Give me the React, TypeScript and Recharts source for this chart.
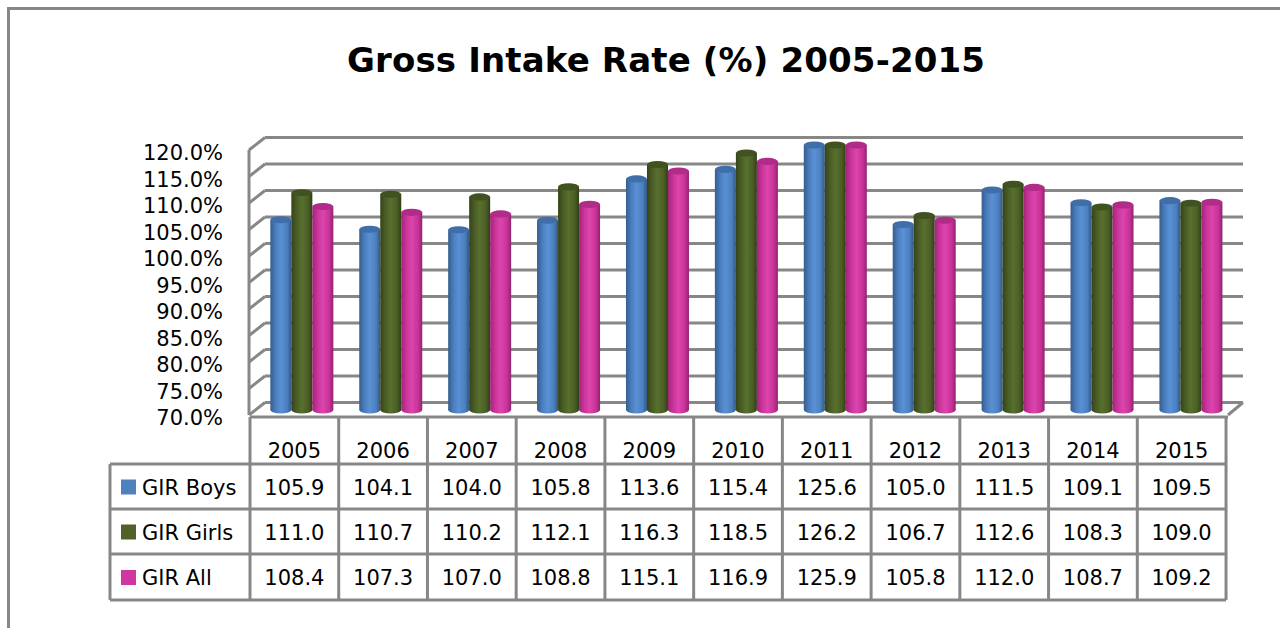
import React from 'react';
import { BarChart, Bar, XAxis, YAxis, CartesianGrid } from 'recharts';

const years = ['2005', '2006', '2007', '2008', '2009', '2010', '2011', '2012', '2013', '2014', '2015'];
const boys = [105.9, 104.1, 104.0, 105.8, 113.6, 115.4, 125.6, 105.0, 111.5, 109.1, 109.5];
const girls = [111.0, 110.7, 110.2, 112.1, 116.3, 118.5, 126.2, 106.7, 112.6, 108.3, 109.0];
const allKids = [108.4, 107.3, 107.0, 108.8, 115.1, 116.9, 125.9, 105.8, 112.0, 108.7, 109.2];
const yTicks = [70, 75, 80, 85, 90, 95, 100, 105, 110, 115, 120];
const seriesNames = ['GIR Boys', 'GIR Girls', 'GIR All'];
const seriesValues = [boys, girls, allKids];
const Y_MIN = 70;
const Y_MAX = 120;

const data = years.map((year, i) => ({ year, boys: boys[i], girls: girls[i], all: allKids[i] }));

const GRAY = '#878787';
const FONT = '"DejaVu Sans", sans-serif';

const palette = [
  { id: 'gBlue', legend: '#4F81BD', top: '#3F6EA8', stops: ['#365D8E', '#4A7DBD', '#5A91D4', '#4B80C0', '#335784'] },
  { id: 'gGreen', legend: '#4F6228', top: '#415221', stops: ['#35431A', '#4A5D25', '#58702E', '#4B5E26', '#313D17'] },
  { id: 'gPink', legend: '#D0369F', top: '#B02C88', stops: ['#9E2679', '#CB349A', '#DC45AD', '#C93398', '#922270'] },
];

const makeCylinder = (idx: number) => (props: any) => {
  const { x, y, width, height } = props;
  if (width == null || height == null || height <= 0) return <g />;
  const c = palette[idx];
  const rx = width / 2;
  const ry = Math.max(2, width * 0.17);
  const cx = x + rx;
  return (
    <g>
      <ellipse cx={cx} cy={y + height} rx={rx} ry={ry} fill={`url(#${c.id})`} />
      <rect x={x} y={y} width={width} height={height} fill={`url(#${c.id})`} />
      <ellipse cx={cx} cy={y} rx={rx} ry={ry} fill={c.top} />
    </g>
  );
};

const GridLine = (p: any) => {
  const { x1, x2, y1, index } = p;
  const back = y1 - 7.5;
  const front = y1 + 5;
  return (
    <g>
      <line x1={x1 + 8} x2={x2 + 8} y1={back} y2={back} stroke={GRAY} strokeWidth={3} />
      <line x1={x1 - 8} y1={front} x2={x1 + 8} y2={back} stroke={GRAY} strokeWidth={3} />
      {index === 0 ? (
        <line x1={x2 - 7} y1={front} x2={x2 + 8} y2={back} stroke={GRAY} strokeWidth={3} />
      ) : null}
    </g>
  );
};

const YTick = (p: any) => {
  const { x, y, payload } = p;
  return (
    <text x={x - 34} y={y + 8} textAnchor="end" dominantBaseline="central" fontFamily={FONT} fontSize={21} fill="#000">
      {`${Number(payload.value).toFixed(1)}%`}
    </text>
  );
};

const TABLE_LEFT = 110;
const COL0 = 250;
const COLW = 88.73;
const HEAD_TOP = 417;
const ROW_TOPS = [464, 509, 554];
const TABLE_BOTTOM = 600;

const Table = () => {
  const right = COL0 + COLW * years.length;
  const lines: any[] = [];
  lines.push(<line key="top" x1={COL0} x2={right + 2} y1={HEAD_TOP} y2={HEAD_TOP} />);
  ROW_TOPS.forEach((t, i) => lines.push(<line key={`h${i}`} x1={TABLE_LEFT} x2={right} y1={t} y2={t} />));
  lines.push(<line key="bottom" x1={TABLE_LEFT} x2={right} y1={TABLE_BOTTOM} y2={TABLE_BOTTOM} />);
  lines.push(<line key="vl" x1={TABLE_LEFT} x2={TABLE_LEFT} y1={ROW_TOPS[0]} y2={TABLE_BOTTOM} />);
  for (let i = 0; i <= years.length; i++) {
    const xx = COL0 + COLW * i;
    lines.push(<line key={`v${i}`} x1={xx} x2={xx} y1={HEAD_TOP} y2={TABLE_BOTTOM} />);
  }
  return (
    <g>
      <g stroke={GRAY} strokeWidth={3}>{lines}</g>
      <g fontFamily={FONT} fontSize={21} fill="#000">
        {years.map((yr, i) => (
          <text key={`y${i}`} x={COL0 + COLW * (i + 0.5)} y={451} textAnchor="middle" dominantBaseline="central">{yr}</text>
        ))}
        {seriesNames.map((name, r) => {
          const cy = (ROW_TOPS[r] + (ROW_TOPS[r + 1] ?? TABLE_BOTTOM)) / 2 + 1;
          return (
            <g key={name}>
              <rect x={121} y={cy - 8} width={15} height={15} fill={palette[r].legend} />
              <text x={142} y={cy} dominantBaseline="central">{name}</text>
              {seriesValues[r].map((v, i) => (
                <text key={i} x={COL0 + COLW * (i + 0.5)} y={cy} textAnchor="middle" dominantBaseline="central">{v.toFixed(1)}</text>
              ))}
            </g>
          );
        })}
      </g>
    </g>
  );
};

export default function App() {
  return (
    <div style={{ position: 'fixed', left: 0, top: 0, width: 1280, height: 628, background: '#fff', overflow: 'hidden' }}>
      <svg width={0} height={0} style={{ position: 'absolute' }}>
        <defs>
          {palette.map((c) => (
            <linearGradient key={c.id} id={c.id} x1="0" y1="0" x2="1" y2="0">
              <stop offset="0%" stopColor={c.stops[0]} />
              <stop offset="25%" stopColor={c.stops[1]} />
              <stop offset="50%" stopColor={c.stops[2]} />
              <stop offset="80%" stopColor={c.stops[3]} />
              <stop offset="100%" stopColor={c.stops[4]} />
            </linearGradient>
          ))}
        </defs>
      </svg>
      <div style={{ position: 'absolute', left: 0, top: 0 }}>
        <BarChart
          width={1280}
          height={628}
          data={data}
          margin={{ top: 145, right: 45, bottom: 218, left: 157 }}
          barCategoryGap="15%"
          barGap={0}
        >
          <CartesianGrid vertical={false} horizontal={GridLine} />
          <XAxis dataKey="year" hide />
          <YAxis
            width={100}
            domain={[Y_MIN, Y_MAX]}
            ticks={yTicks}
            interval={0}
            tickSize={0}
            tickMargin={0}
            tickLine={false}
            axisLine={{ stroke: GRAY, strokeWidth: 3, transform: 'translate(-8,5)' } as any}
            tick={YTick}
          />
          <Bar dataKey={(d: any) => Math.min(d.boys, Y_MAX)} name="GIR Boys" shape={makeCylinder(0)} isAnimationActive={false} />
          <Bar dataKey={(d: any) => Math.min(d.girls, Y_MAX)} name="GIR Girls" shape={makeCylinder(1)} isAnimationActive={false} />
          <Bar dataKey={(d: any) => Math.min(d.all, Y_MAX)} name="GIR All" shape={makeCylinder(2)} isAnimationActive={false} />
        </BarChart>
      </div>
      <svg width={1280} height={628} style={{ position: 'absolute', left: 0, top: 0, pointerEvents: 'none' }}>
        <path d="M 8.5 628 V 8.5 H 1280" fill="none" stroke={GRAY} strokeWidth={3} />
        <text x={666} y={72} textAnchor="middle" fontFamily={FONT} fontWeight="bold" fontSize={34} textLength={638} lengthAdjust="spacing" fill="#000">
          Gross Intake Rate (%) 2005-2015
        </text>
        <Table />
      </svg>
    </div>
  );
}
